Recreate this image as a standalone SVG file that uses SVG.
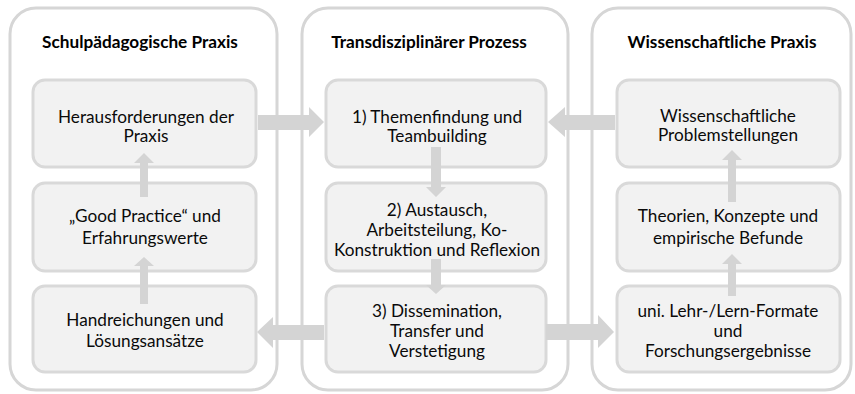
<svg xmlns="http://www.w3.org/2000/svg" width="855" height="394" viewBox="0 0 855 394">
<style>
.cont{fill:#ffffff;stroke:#d6d6d6;stroke-width:3}
.box{fill:#f2f2f2;stroke:#d9d9d9;stroke-width:3}
.title{font-family:Lato,"Liberation Sans",sans-serif;font-weight:bold;font-size:17.2px;fill:#000;text-anchor:middle}
.t{font-family:Lato,"Liberation Sans",sans-serif;font-size:17.2px;fill:#0a0a0a;text-anchor:middle}
.arr{fill:#d4d4d4}
</style>
<rect width="855" height="394" fill="#ffffff"/>
<g id="container-schul">
<rect class="cont" x="10" y="8" width="267" height="382" rx="26"/>
<text class="title" x="140" y="48">Schulpädagogische Praxis</text>
</g>
<g id="container-trans">
<rect class="cont" x="302" y="8" width="266" height="382" rx="26"/>
<text class="title" x="429" y="48">Transdisziplinärer Prozess</text>
</g>
<g id="container-wiss">
<rect class="cont" x="592" y="8" width="259" height="382" rx="26"/>
<text class="title" x="722" y="48">Wissenschaftliche Praxis</text>
</g>
<g id="herausforderungen">
<rect class="box" x="33" y="80" width="223" height="87" rx="12"/>
<text class="t" x="146" y="123">Herausforderungen der</text>
<text class="t" x="146" y="142">Praxis</text>
</g>
<g id="good-practice">
<rect class="box" x="33" y="183" width="223" height="88" rx="12"/>
<text class="t" x="145" y="222">„Good Practice“ und</text>
<text class="t" x="145" y="244">Erfahrungswerte</text>
</g>
<g id="handreichungen">
<rect class="box" x="33" y="286" width="223" height="86" rx="12"/>
<text class="t" x="145" y="326">Handreichungen und</text>
<text class="t" x="145" y="347">Lösungsansätze</text>
</g>
<g id="themenfindung">
<rect class="box" x="326" y="80" width="220" height="87" rx="12"/>
<text class="t" x="437" y="123">1) Themenfindung und</text>
<text class="t" x="437" y="142">Teambuilding</text>
</g>
<g id="austausch">
<rect class="box" x="326" y="183" width="220" height="88" rx="12"/>
<text class="t" x="437" y="216">2) Austausch,</text>
<text class="t" x="437" y="236">Arbeitsteilung, Ko-</text>
<text class="t" x="437" y="256">Konstruktion und Reflexion</text>
</g>
<g id="dissemination">
<rect class="box" x="326" y="286" width="220" height="86" rx="12"/>
<text class="t" x="437" y="317">3) Dissemination,</text>
<text class="t" x="437" y="337">Transfer und</text>
<text class="t" x="437" y="357">Verstetigung</text>
</g>
<g id="problemstellungen">
<rect class="box" x="617" y="80" width="223" height="87" rx="12"/>
<text class="t" x="728" y="122">Wissenschaftliche</text>
<text class="t" x="728" y="141">Problemstellungen</text>
</g>
<g id="theorien">
<rect class="box" x="617" y="183" width="223" height="88" rx="12"/>
<text class="t" x="728" y="222">Theorien, Konzepte und</text>
<text class="t" x="728" y="244">empirische Befunde</text>
</g>
<g id="lehr-lern-formate">
<rect class="box" x="617" y="286" width="223" height="86" rx="12"/>
<text class="t" x="728" y="317">uni. Lehr-/Lern-Formate</text>
<text class="t" x="728" y="337">und</text>
<text class="t" x="728" y="357">Forschungsergebnisse</text>
</g>
<g id="connectors">
<polygon class="arr" points="258,115 309,115 309,107 324,122 309,137 309,130 258,130"/>
<polygon class="arr" points="615,115 565,115 565,107 548,122 565,137 565,130 615,130"/>
<polygon class="arr" points="324,325 273,325 273,317 257,332 273,348 273,340 324,340"/>
<polygon class="arr" points="546,324 598,324 598,315 614,332 598,348 598,340 546,340"/>
<polygon class="arr" points="140,197 140,163 134,163 144,153 154,163 148,163 148,197"/>
<polygon class="arr" points="140,304 140,266 134,266 144,257 154,266 148,266 148,304"/>
<polygon class="arr" points="431,147 441,147 441,187 446,187 436,197 426,187 431,187"/>
<polygon class="arr" points="431,259 441,259 441,285 446,285 436,294 426,285 431,285"/>
<polygon class="arr" points="728,202 728,160 722,160 732,150 742,160 736,160 736,202"/>
<polygon class="arr" points="728,296 728,264 722,264 732,254 742,264 736,264 736,296"/>
</g>
</svg>
